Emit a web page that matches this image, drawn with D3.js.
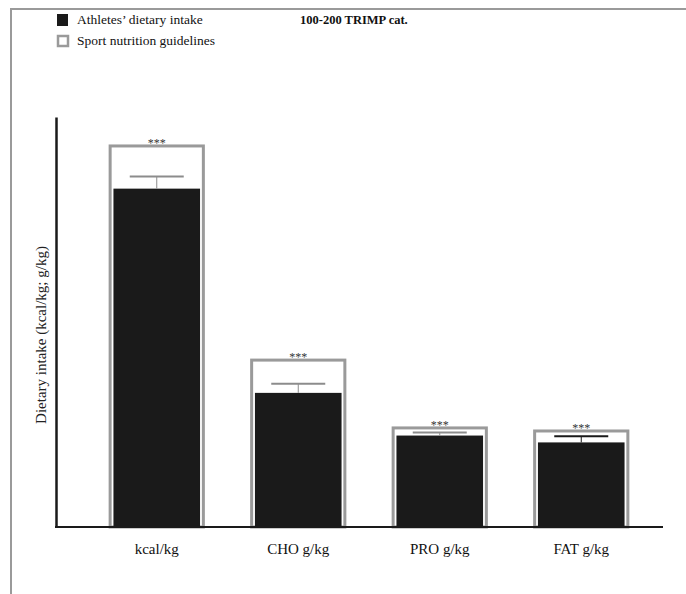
<!DOCTYPE html>
<html>
<head>
<meta charset="utf-8">
<script src="https://cdn.jsdelivr.net/npm/d3@7"></script>
<style>
  body { margin: 0; background: #fff; }
  svg { display: block; font-family: "Liberation Serif", "Times New Roman", serif; }
</style>
</head>
<body>
<div id="d3-container"></div>
<script>
  // values (arbitrary units, same axis for all four)
  const categories = ["kcal/kg", "CHO g/kg", "PRO g/kg", "FAT g/kg"]
  const guidelines = [50, 21.9, 13.0, 12.6]
  const intake = [44.4, 17.6, 12.0, 11.1]
  const intakeErr = [1.6, 1.2, 0.4, 0.8]
  const stars = ["***", "***", "***", "***"]

  const legendLabels = ["Athletes\u2019 dietary intake", "Sport nutrition guidelines"]
  const title = "100-200 TRIMP cat."
  const yLabel = "Dietary intake (kcal/kg; g/kg)"

  const width = 686
  const height = 594
  const margin = { top: 117, bottom: 67, left: 56, right: 23 }
  const capColors = ["#8c8c8c", "#8c8c8c", "#8c8c8c", "#1a1a1a"]

  const svg = d3.select('#d3-container')
    .append('svg')
    .attr('width', width)
    .attr('height', height)

  // outer frame (top + left only)
  svg.append("path")
    .attr("d", `M11,${height} V9 H${width}`)
    .attr("fill", "none")
    .attr("stroke", "#9a9a9a")
    .attr("stroke-width", 2)

  const x = d3.scaleBand()
    .domain(categories)
    .range([86, 652])
    .paddingInner(0.32)
    .paddingOuter(0.16)

  const y = d3.scaleLinear()
    .domain([0, 53.8])
    .range([height - margin.bottom, margin.top])

  const bw = x.bandwidth()

  // guideline outlines
  svg.append("g")
    .selectAll("rect")
    .data(categories)
    .join("rect")
      .attr("x", d => x(d) + 1.5)
      .attr("y", (d, i) => y(guidelines[i]))
      .attr("width", bw - 3)
      .attr("height", (d, i) => y(0) - y(guidelines[i]))
      .attr("fill", "none")
      .attr("stroke", "#9a9a9a")
      .attr("stroke-width", 3)

  // intake bars
  const inner = bw * 0.9
  svg.append("g")
    .selectAll("rect")
    .data(categories)
    .join("rect")
      .attr("x", d => x(d) + (bw - inner) / 2)
      .attr("y", (d, i) => y(intake[i]))
      .attr("width", inner)
      .attr("height", (d, i) => y(0) - y(intake[i]))
      .attr("fill", "#1a1a1a")

  // error bars (upper only)
  const capW = 54
  const err = svg.append("g")
    .selectAll("g")
    .data(categories)
    .join("g")
      .attr("stroke", (d, i) => capColors[i])
  err.append("line")
    .attr("x1", d => x(d) + bw / 2).attr("x2", d => x(d) + bw / 2)
    .attr("y1", (d, i) => y(intake[i])).attr("y2", (d, i) => y(intake[i] + intakeErr[i]))
    .attr("stroke-width", 1)
  err.append("line")
    .attr("x1", d => x(d) + bw / 2 - capW / 2).attr("x2", d => x(d) + bw / 2 + capW / 2)
    .attr("y1", (d, i) => y(intake[i] + intakeErr[i])).attr("y2", (d, i) => y(intake[i] + intakeErr[i]))
    .attr("stroke-width", 2)

  // significance stars
  svg.append("g")
    .selectAll("text")
    .data(categories)
    .join("text")
      .attr("x", d => x(d) + bw / 2)
      .attr("y", (d, i) => y(guidelines[i]) + 1)
      .attr("text-anchor", "middle")
      .attr("font-size", 12)
      .attr("fill", "#333")
      .text((d, i) => stars[i])

  // axes
  function xAxis(g) {
    g.attr("transform", `translate(0,${height - margin.bottom})`)
     .call(d3.axisBottom(x).tickSize(0).tickPadding(16))
     .attr("font-family", null)
     .attr("font-size", 15)
    g.select(".domain").attr("d", `M${margin.left - 1},0H${width - margin.right}`)
      .attr("stroke", "#1a1a1a").attr("stroke-width", 2)
    g.selectAll("text").attr("fill", "#111")
  }

  function yAxis(g) {
    g.attr("transform", `translate(${margin.left},0)`)
     .call(d3.axisLeft(y).ticks(0).tickSize(0))
    g.select(".domain").attr("stroke", "#1a1a1a").attr("stroke-width", 2.5)
  }

  svg.append("g").call(xAxis)
  svg.append("g").call(yAxis)

  svg.append("text")
    .attr("transform", `translate(46,335) rotate(-90)`)
    .attr("text-anchor", "middle")
    .attr("font-size", 15)
    .attr("fill", "#222")
    .text(yLabel)

  // legend
  const legend = svg.append("g")
    .selectAll("g")
    .data(legendLabels)
    .join("g")
      .attr("transform", (d, i) => `translate(57,${14 + i * 21})`)
  legend.append("rect")
    .attr("x", (d, i) => i ? 1 : 0)
    .attr("y", (d, i) => i ? 1 : 0)
    .attr("width", (d, i) => i ? 10 : 11)
    .attr("height", (d, i) => i ? 10 : 12)
    .attr("fill", (d, i) => i ? "#fff" : "#1a1a1a")
    .attr("stroke", (d, i) => i ? "#9a9a9a" : "none")
    .attr("stroke-width", 2.5)
  legend.append("text")
    .attr("x", 20)
    .attr("y", 10)
    .attr("font-size", 13.5)
    .attr("fill", "#111")
    .text(d => d)

  svg.append("text")
    .attr("x", 300)
    .attr("y", 24)
    .attr("font-size", 12.5)
    .attr("font-weight", "bold")
    .attr("fill", "#111")
    .text(title)
</script>
</body>
</html>
